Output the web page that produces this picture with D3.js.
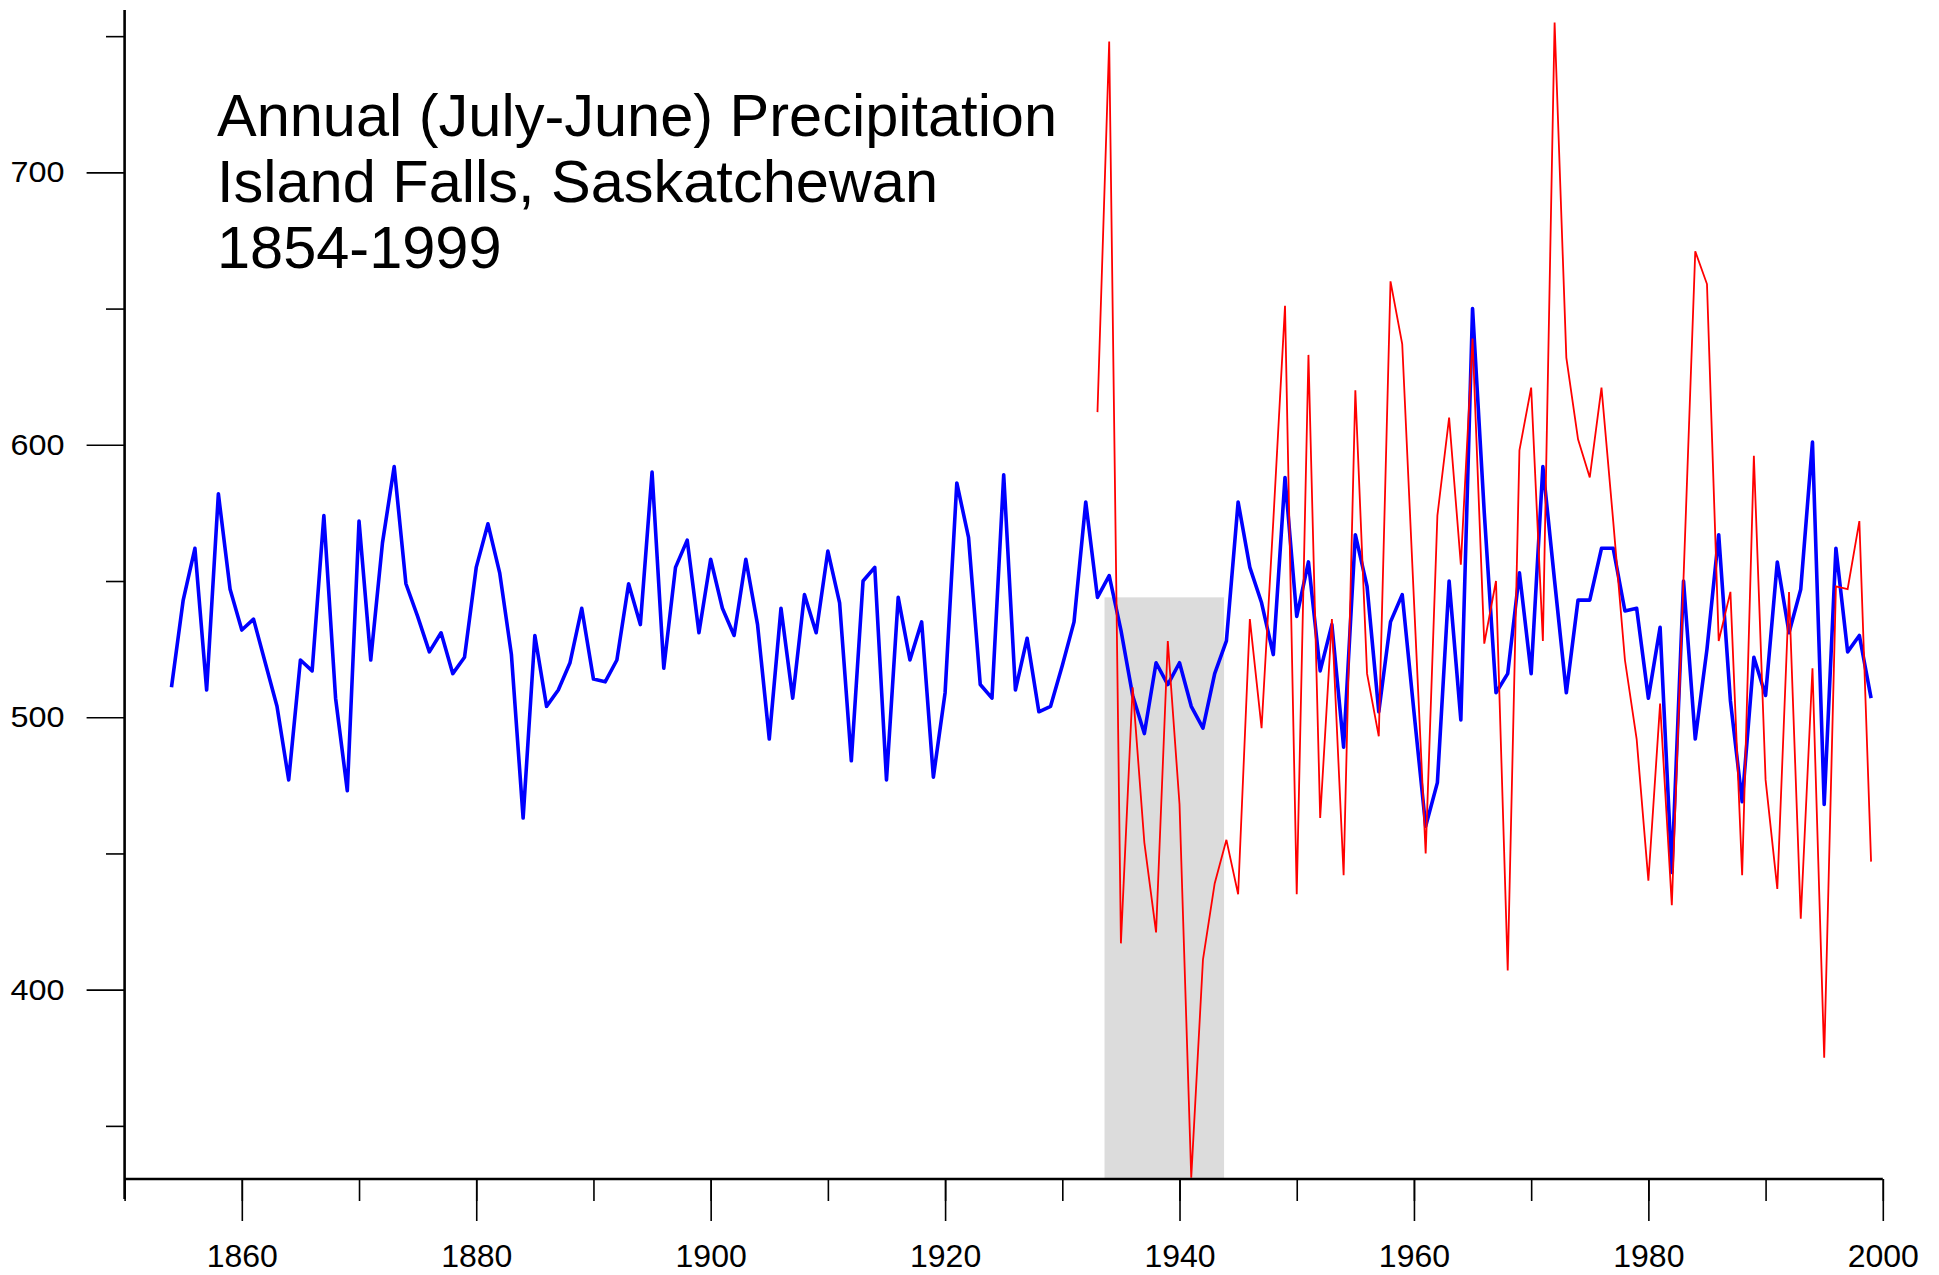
<!DOCTYPE html>
<html>
<head>
<meta charset="utf-8">
<script src="https://cdn.jsdelivr.net/npm/d3@7"></script>
<style>
  html, body { margin: 0; padding: 0; background: #fff; }
  svg { display: block; }
  text { font-family: "Liberation Sans", Arial, Helvetica, sans-serif; fill: #000; }
</style>
</head>
<body>
<script>
// Annual (July-June) precipitation, mm
const reconYears = d3.range(1854, 2000);
const reconValues = [
  511, 543, 562, 510, 582, 547, 532, 536, 520, 504,
  477, 521, 517, 574, 507, 473, 572, 521, 564, 592,
  549, 537, 524, 531, 516, 522, 555, 571, 553, 523,
  463, 530, 504, 510, 520, 540, 514, 513, 521, 549,
  534, 590, 518, 555, 565, 531, 558, 540, 530, 558,
  534, 492, 540, 507, 545, 531, 561, 542, 484, 550,
  555, 477, 544, 521, 535, 478, 509, 586, 566, 512,
  507, 589, 510, 529, 502, 504, 519, 535, 579, 544,
  552, 532, 508, 494, 520, 512, 520, 504, 496, 516,
  528, 579, 555, 542, 523, 588, 537, 557, 517, 534,
  489, 567, 548, 502, 535, 545, 502, 460, 476, 550,
  499, 650, 575, 509, 516, 553, 516, 592, 550, 509,
  543, 543, 562, 562, 539, 540, 507, 533, 443, 550,
  492, 525, 567, 506, 469, 522, 508, 557, 531, 547,
  601, 468, 562, 524, 530, 507
];

const gaugeYears = d3.range(1933, 2000);
const gaugeValues = [
  612, 748, 417, 511, 454, 421, 528, 468, 331, 411,
  439, 455, 435, 536, 496, 572, 651, 435, 633, 463,
  536, 442, 620, 516, 493, 660, 637, 543, 450, 574,
  610, 556, 639, 527, 550, 407, 598, 621, 528, 755,
  632, 602, 588, 621, 572, 521, 492, 440, 505, 431,
  551, 671, 659, 528, 546, 442, 596, 477, 437, 546,
  426, 518, 375, 548, 547, 572, 447
];

// shaded interval (years) and its upper level (mm)
const shadeSpan = [1933.6, 1943.8];
const shadeTop = 544;

const xMajorTicks = d3.range(1860, 2001, 20);
const xMinorTicks = d3.range(1850, 2001, 10);
const yMajorTicks = [400, 500, 600, 700];
const yMinorTicks = [350, 450, 550, 650, 750];

const titleLines = [
  "Annual (July-June) Precipitation",
  "Island Falls, Saskatchewan",
  "1854-1999"
];

const W = 1939, H = 1275;
const plotLeft = 124.6, plotRight = 1882.8, plotBottom = 1179, plotTop = 10;

const svg = d3.select("body").append("svg")
  .attr("width", W).attr("height", H);

const x = d3.scaleLinear().domain([1850, 2000]).range([plotLeft, plotRight]);
const y = d3.scaleLinear().domain([330.5, 759.6]).range([plotBottom, plotTop]);

// shaded period
svg.append("rect")
  .attr("x", x(shadeSpan[0]))
  .attr("width", x(shadeSpan[1]) - x(shadeSpan[0]))
  .attr("y", y(shadeTop))
  .attr("height", plotBottom - y(shadeTop))
  .attr("fill", "#dcdcdc");

const line = d3.line().x(d => x(d[0])).y(d => y(d[1]));

svg.append("path")
  .datum(reconYears.map((yr, i) => [yr, reconValues[i]]))
  .attr("d", line)
  .attr("fill", "none")
  .attr("stroke", "#0000ff")
  .attr("stroke-width", 3.6)
  .attr("stroke-linejoin", "round");

svg.append("path")
  .datum(gaugeYears.map((yr, i) => [yr, gaugeValues[i]]))
  .attr("d", line)
  .attr("fill", "none")
  .attr("stroke", "#ff0000")
  .attr("stroke-width", 1.8)
  .attr("stroke-linejoin", "miter");

// x axis
const xAxisMinor = d3.axisBottom(x).tickValues(xMinorTicks).tickSize(22).tickFormat("");
const xAxisMajor = d3.axisBottom(x).tickValues(xMajorTicks).tickSize(42)
  .tickFormat(d3.format("d"));

const gxMinor = svg.append("g").attr("transform", `translate(0,${plotBottom})`).call(xAxisMinor);
const gxMajor = svg.append("g").attr("transform", `translate(0,${plotBottom})`).call(xAxisMajor);
[gxMinor, gxMajor].forEach(g => {
  g.select(".domain").remove();
  g.selectAll(".tick line").attr("stroke", "#000").attr("stroke-width", 1.6);
});
gxMajor.selectAll(".tick text")
  .attr("font-size", 32)
  .attr("dy", null)
  .attr("y", 88)
  .attr("fill", "#000")
  .attr("font-family", '"Liberation Sans", Arial, sans-serif');

svg.append("line")
  .attr("x1", x(1850)).attr("x2", x(2000))
  .attr("y1", plotBottom).attr("y2", plotBottom)
  .attr("stroke", "#000").attr("stroke-width", 2.6);

// y axis
const yAxisMinor = d3.axisLeft(y).tickValues(yMinorTicks).tickSize(18.6).tickFormat("");
const yAxisMajor = d3.axisLeft(y).tickValues(yMajorTicks).tickSize(38)
  .tickPadding(22).tickFormat(d3.format("d"));

const gyMinor = svg.append("g").attr("transform", `translate(${plotLeft},0)`).call(yAxisMinor);
const gyMajor = svg.append("g").attr("transform", `translate(${plotLeft},0)`).call(yAxisMajor);
[gyMinor, gyMajor].forEach(g => {
  g.select(".domain").remove();
  g.selectAll(".tick line").attr("stroke", "#000").attr("stroke-width", 1.6);
});
// tick labels on the value axis are set in a slightly widened face
gyMajor.selectAll(".tick text")
  .attr("font-size", 30)
  .attr("fill", "#000")
  .attr("textLength", 54)
  .attr("lengthAdjust", "spacingAndGlyphs")
  .attr("font-family", '"Liberation Sans", Arial, sans-serif');

svg.append("line")
  .attr("x1", plotLeft).attr("x2", plotLeft)
  .attr("y1", plotTop).attr("y2", 1199)
  .attr("stroke", "#000").attr("stroke-width", 2.6);

// title block
const title = svg.append("g");
titleLines.forEach((t, i) => {
  title.append("text")
    .attr("x", 217)
    .attr("y", 136 + i * 66)
    .attr("font-size", 59.5)
    .text(t);
});
</script>
</body>
</html>
